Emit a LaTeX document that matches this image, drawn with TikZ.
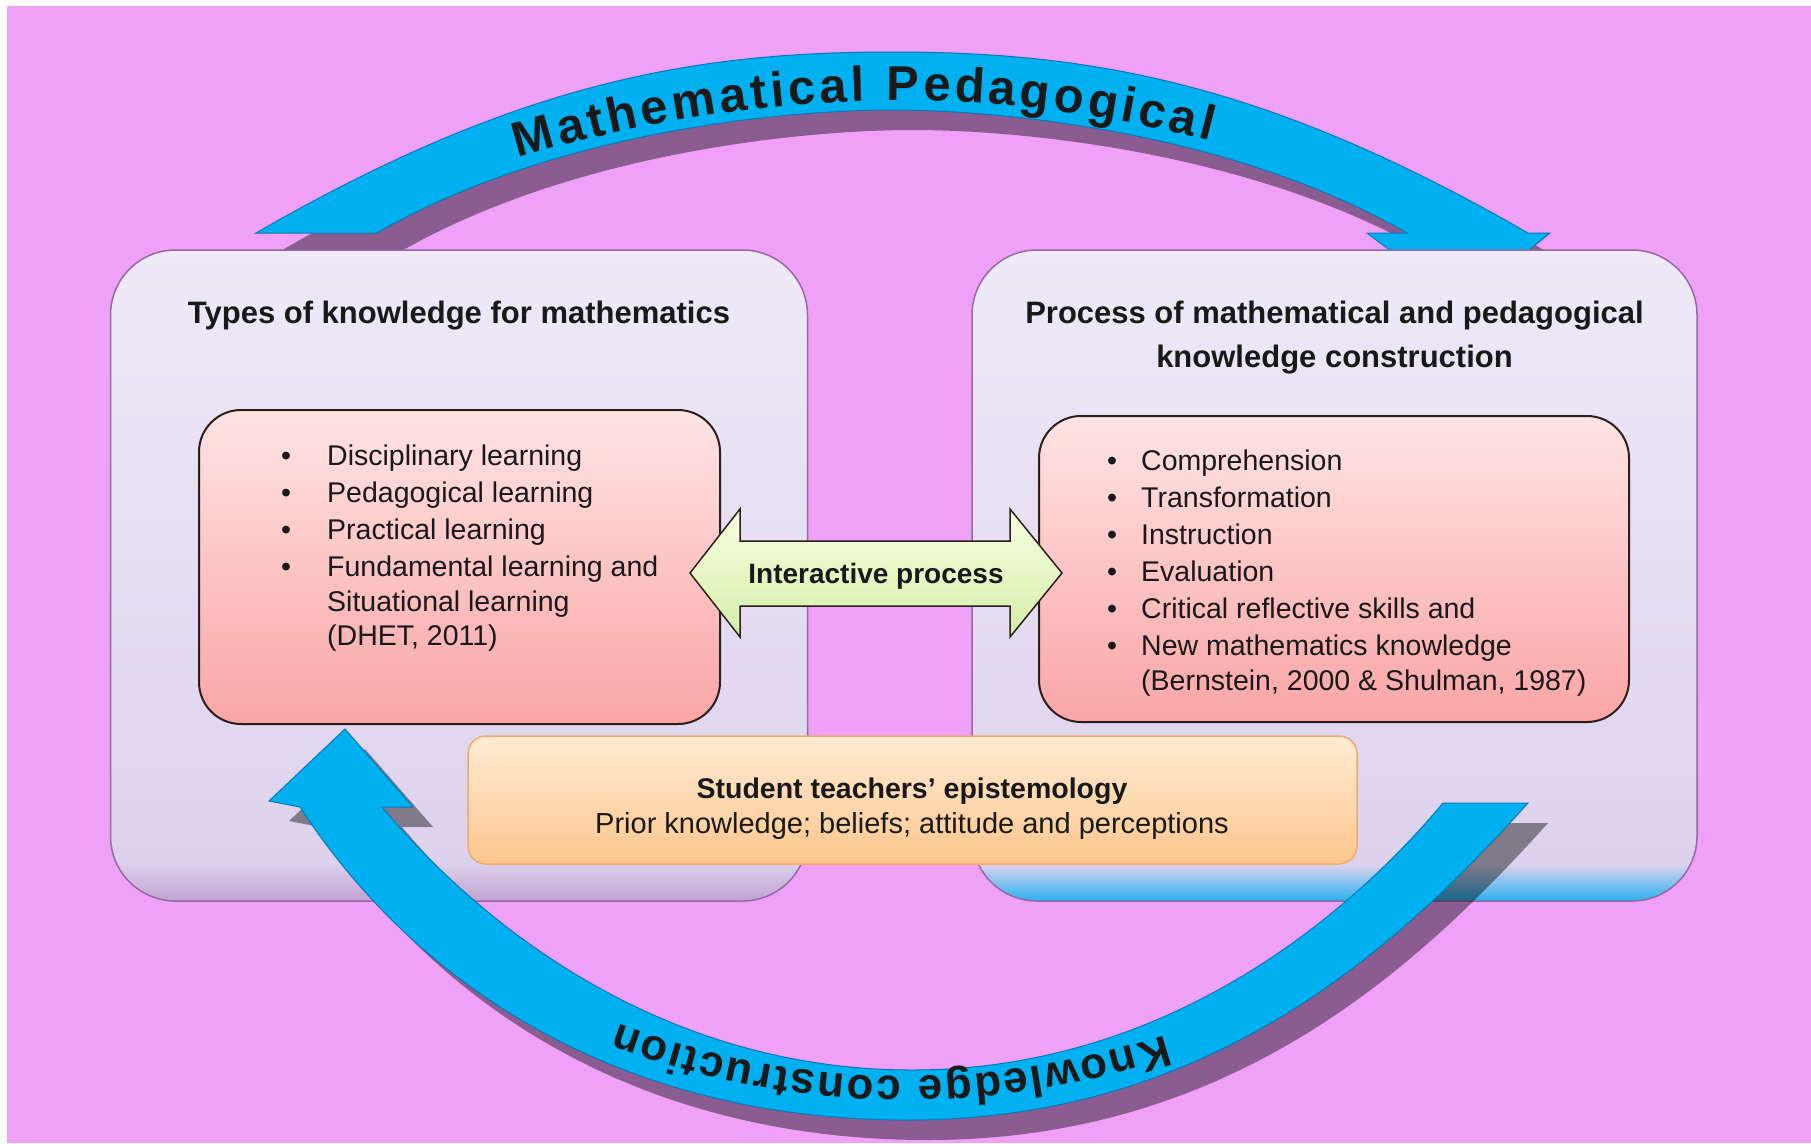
\documentclass[tikz,border=0pt]{standalone}
\usepackage{fontspec}
\setmainfont{Liberation Sans}
\usetikzlibrary{decorations.text}
\definecolor{bgpink}{RGB}{239,160,247}
\definecolor{arcblue}{RGB}{0,176,240}
\definecolor{arcline}{RGB}{10,120,180}
\definecolor{lbA}{RGB}{192,162,210}
\definecolor{lbB}{RGB}{221,210,237}
\definecolor{lbC}{RGB}{238,234,248}
\definecolor{rbA}{RGB}{40,176,240}
\definecolor{boxline}{RGB}{150,105,165}
\definecolor{pinkT}{RGB}{255,228,228}
\definecolor{pinkB}{RGB}{250,165,165}
\definecolor{innerline}{RGB}{45,30,30}
\definecolor{oraT}{RGB}{255,236,212}
\definecolor{oraB}{RGB}{252,198,140}
\definecolor{oraline}{RGB}{238,170,110}
\definecolor{grT}{RGB}{248,255,226}
\definecolor{grB}{RGB}{212,238,168}
\definecolor{txt}{RGB}{25,25,25}
\pgfdeclareverticalshading{leftsh}{100bp}{color(0bp)=(lbA); color(25bp)=(lbA); color(28bp)=(lbB); color(75bp)=(lbC); color(100bp)=(lbC)}
\pgfdeclareverticalshading{rightsh}{100bp}{color(0bp)=(rbA); color(25bp)=(rbA); color(27.8bp)=(lbB); color(75bp)=(lbC); color(100bp)=(lbC)}
\newcommand\bodyfont{\fontsize{28.5}{34}\selectfont}
\newcommand\titlefont{\fontsize{31}{38}\selectfont\bfseries}
\newcommand\toparcfont{\fontsize{49}{52}\selectfont\bfseries}
\newcommand\botarcfont{\fontsize{44}{50}\selectfont\bfseries}
\newcommand\toparcpath{(256,233) .. controls (516,83) and (692,52) .. (892,52) .. controls (1092,52) and (1268,83) .. (1528,233) -- (1550,233) -- (1462,305) -- (1367,233) -- (1407,233) .. controls (1234,133) and (1004,110) .. (892,110) .. controls (780,110) and (550,133) .. (377,233) -- cycle}
\newcommand\botarcpath{(1528,803) .. controls (1394,952) and (1208,1120) .. (908,1120) .. controls (608,1120) and (409,975) .. (300,807) -- (269,801) -- (345,729) -- (413,807) -- (382,807) .. controls (491,937) and (672,1070) .. (912,1070) .. controls (1152,1070) and (1334,933) .. (1443,803) -- cycle}
\begin{document}
\begin{tikzpicture}[x=1pt,y=-1pt,
  bigbox/.style={draw=boxline, line width=1.5pt, rounded corners=65pt, inner sep=0pt},
  innerbox/.style={draw=innerline, line width=2pt, rounded corners=42pt, inner sep=0pt, top color=pinkT, bottom color=pinkB},
  orangebox/.style={draw=oraline, line width=1.5pt, rounded corners=18pt, inner sep=0pt, top color=oraT, bottom color=oraB},
  titletext/.style={font=\titlefont, text=txt, inner sep=0pt, anchor=base},
  bodytext/.style={font=\bodyfont, text=txt, inner sep=0pt, anchor=base west},
  bullettext/.style={font=\bodyfont, text=txt, inner sep=0pt, anchor=base},
  arcfill/.style={fill=arcblue, draw=arcline, line width=1pt},
  arcshadow/.style={fill=black, opacity=0.42}
]
\useasboundingbox (0,0) rectangle (1811,1143);
\fill[white] (0,0) rectangle (1811,1143);
\fill[bgpink] (7,6) rectangle (1811,1143);

% top arc with shadow
\fill[arcshadow, shift={(21,20)}] \toparcpath;
\path[arcfill] \toparcpath;

% big boxes
\node[bigbox, shading=leftsh, minimum width=697pt, minimum height=651pt] (LB) at (459,575.5) {};
\node[bigbox, shading=rightsh, minimum width=725pt, minimum height=651pt] (RB) at (1334.5,575.5) {};

% titles
\node[titletext] (LT) at (459,323) {Types of knowledge for mathematics};
\node[titletext] (RT1) at (1334.5,323) {Process of mathematical and pedagogical};
\node[titletext] (RT2) at (1334.5,367) {knowledge construction};

% inner boxes
\node[innerbox, minimum width=521pt, minimum height=314pt] (LI) at (459.5,567) {};
\node[innerbox, minimum width=590pt, minimum height=306pt] (RI) at (1334,569) {};

% left list
\node[bullettext] (lb1) at (286,465) {\textbullet};
\node[bullettext] (lb2) at (286,502) {\textbullet};
\node[bullettext] (lb3) at (286,539) {\textbullet};
\node[bullettext] (lb4) at (286,576) {\textbullet};
\node[bodytext] (lt1) at (327,465) {Disciplinary learning};
\node[bodytext] (lt2) at (327,502) {Pedagogical learning};
\node[bodytext] (lt3) at (327,539) {Practical learning};
\node[bodytext] (lt4) at (327,576) {Fundamental learning and};
\node[bodytext] (lt5) at (327,611) {Situational learning};
\node[bodytext] (lt6) at (327,645) {(DHET, 2011)};

% right list
\node[bullettext] (rb1) at (1112,470) {\textbullet};
\node[bullettext] (rb2) at (1112,507) {\textbullet};
\node[bullettext] (rb3) at (1112,544) {\textbullet};
\node[bullettext] (rb4) at (1112,581) {\textbullet};
\node[bullettext] (rb5) at (1112,618) {\textbullet};
\node[bullettext] (rb6) at (1112,655) {\textbullet};
\node[bodytext] (rt1) at (1141,470) {Comprehension};
\node[bodytext] (rt2) at (1141,507) {Transformation};
\node[bodytext] (rt3) at (1141,544) {Instruction};
\node[bodytext] (rt4) at (1141,581) {Evaluation};
\node[bodytext] (rt5) at (1141,618) {Critical reflective skills and};
\node[bodytext] (rt6) at (1141,655) {New mathematics knowledge};
\node[bodytext] (rt7) at (1141,690) {(Bernstein, 2000 \& Shulman, 1987)};

% interactive double arrow
\path[draw=innerline, line width=1.5pt, top color=grT, bottom color=grB, line join=miter]
  (690,573) -- (740,509) -- (740,541) -- (1010,541) -- (1010,509) -- (1062,573)
  -- (1010,637) -- (1010,606) -- (740,606) -- (740,637) -- cycle;
\node[font=\fontsize{28}{32}\selectfont\bfseries, text=txt, inner sep=0pt, anchor=base] (IP) at (876,583) {Interactive process};

% orange box
\node[orangebox, minimum width=889pt, minimum height=128pt] (OB) at (912.5,800) {};
\node[font=\fontsize{28.5}{32}\selectfont\bfseries, text=txt, inner sep=0pt, anchor=base] (OT1) at (912,798) {Student teachers’ epistemology};
\node[font=\fontsize{29}{32}\selectfont, text=txt, inner sep=0pt, anchor=base] (OT2) at (912,833) {Prior knowledge; beliefs; attitude and perceptions};

% bottom arc with shadow
\fill[arcshadow, shift={(20,20)}] \botarcpath;
\path[arcfill] \botarcpath;

% texts along arcs
\path[decorate, decoration={text along path, text color=txt, text align=fit to path,
  text={|\toparcfont|Mathematical Pedagogical}}]
  (518,158) .. controls (753,88) and (983,82) .. (1210,141);
\path[decorate, decoration={text along path, text color=txt, text align=fit to path,
  text={|\botarcfont|Knowledge construction}}]
  (1165,1035) .. controls (982,1094) and (798,1090) .. (618,1024);
\end{tikzpicture}
\end{document}
